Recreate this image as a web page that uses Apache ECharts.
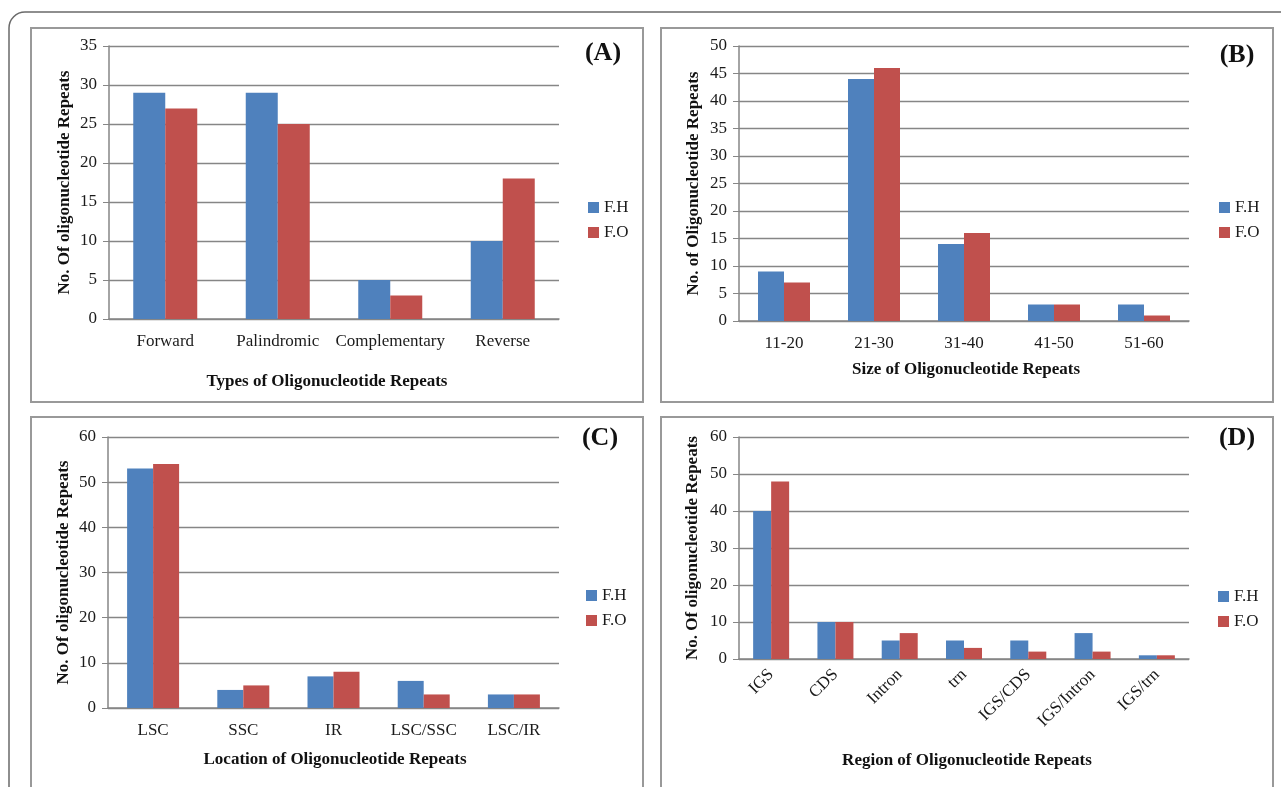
<!DOCTYPE html>
<html>
<head>
<meta charset="utf-8">
<script src="https://cdn.jsdelivr.net/npm/echarts@6/dist/echarts.min.js"></script>
<style>
html,body{margin:0;padding:0;background:#fff;}
#c{width:1281px;height:787px;}
</style>
</head>
<body>
<div id="c"></div>
<script>
// ---- data ----
const seriesNames = ['F.H', 'F.O'];

const typeCats = ['Forward', 'Palindromic', 'Complementary', 'Reverse'];
const typeFH = [29, 29, 5, 10];
const typeFO = [27, 25, 3, 18];

const sizeCats = ['11-20', '21-30', '31-40', '41-50', '51-60'];
const sizeFH = [9, 44, 14, 3, 3];
const sizeFO = [7, 46, 16, 3, 1];

const locCats = ['LSC', 'SSC', 'IR', 'LSC/SSC', 'LSC/IR'];
const locFH = [53, 4, 7, 6, 3];
const locFO = [54, 5, 8, 3, 3];

const regionCats = ['IGS', 'CDS', 'Intron', 'trn', 'IGS/CDS', 'IGS/Intron', 'IGS/trn'];
const regionFH = [40, 10, 5, 5, 5, 7, 1];
const regionFO = [48, 10, 7, 3, 2, 2, 1];

const panelLabels = ['(A)', '(B)', '(C)', '(D)'];
const xTitles = ['Types of Oligonucleotide Repeats', 'Size of Oligonucleotide Repeats',
                 'Location of Oligonucleotide Repeats', 'Region of Oligonucleotide Repeats'];
const yTitles = ['No. Of oligonucleotide Repeats', 'No. of Oligonucleotide Repeats',
                 'No. Of oligonucleotide Repeats', 'No. Of oligonucleotide Repeats'];
const yMax = [35, 50, 60, 60];
const yStep = [5, 5, 10, 10];

// ---- styling / layout ----
const FONT = '"Liberation Serif", "Times New Roman", serif';
const BLUE = '#4F81BD';
const RED = '#C0504D';
const LINE = '#868686';
const BOX = '#999999';

const grids = [
  {left: 109, top: 46, width: 450, height: 273},
  {left: 739, top: 46, width: 450, height: 275},
  {left: 108, top: 437, width: 451, height: 271},
  {left: 739, top: 437, width: 450, height: 222}
];
const cats = [typeCats, sizeCats, locCats, regionCats];
const fh = [typeFH, sizeFH, locFH, regionFH];
const fo = [typeFO, sizeFO, locFO, regionFO];
const barW = [32, 26, 26, 18];
const legendPos = [
  {left: 583, top: 194}, {left: 1214, top: 194},
  {left: 581, top: 582}, {left: 1213, top: 583}
];
const panelLabelPos = [[603, 53], [1237, 55], [600, 438], [1237, 438]];
const xTitlePos = [[327, 382], [966, 370], [335, 760], [967, 761]];
const yNameGap = [36, 37, 36, 38];

const xAxes = [], yAxes = [], series = [], legends = [], graphics = [];

// outer frame
graphics.push({type: 'rect', shape: {x: 9, y: 12, width: 1400, height: 900, r: 16},
  style: {fill: 'none', stroke: '#6a6a6a', lineWidth: 1.5}, z: 1});
// panel boxes
[[31, 28, 612, 374], [661, 28, 612, 374], [31, 417, 612, 420], [661, 417, 612, 420]].forEach(b => {
  graphics.push({type: 'rect', shape: {x: b[0], y: b[1], width: b[2], height: b[3]},
    style: {fill: 'none', stroke: BOX, lineWidth: 2}, z: 1});
});

for (let i = 0; i < 4; i++) {
  xAxes.push({
    type: 'category', gridIndex: i, data: cats[i],
    axisLine: {lineStyle: {color: LINE, width: 1.5}},
    axisTick: {show: false},
    axisLabel: {
      fontFamily: FONT, fontSize: 17, color: '#1a1a1a', interval: 0,
      margin: i === 3 ? 13 : 14, rotate: i === 3 ? 45 : 0
    }
  });
  yAxes.push({
    type: 'value', gridIndex: i, min: 0, max: yMax[i], interval: yStep[i],
    axisLine: {show: true, lineStyle: {color: LINE, width: 1.5}},
    axisTick: {show: true, length: 6, lineStyle: {color: LINE}},
    splitLine: {lineStyle: {color: LINE, width: 1.3}},
    axisLabel: {fontFamily: FONT, fontSize: 17, color: '#1a1a1a', margin: 12},
    name: yTitles[i], nameLocation: 'middle', nameRotate: 90, nameGap: yNameGap[i],
    nameTextStyle: {fontFamily: FONT, fontSize: 17, fontWeight: 'bold', color: '#111'}
  });
  series.push({
    name: seriesNames[0], type: 'bar', xAxisIndex: i, yAxisIndex: i, data: fh[i],
    barWidth: barW[i], barGap: '0%', itemStyle: {color: BLUE}
  });
  series.push({
    name: seriesNames[1], type: 'bar', xAxisIndex: i, yAxisIndex: i, data: fo[i],
    barWidth: barW[i], barGap: '0%', itemStyle: {color: RED}
  });
  legends.push({
    data: seriesNames, orient: 'vertical', left: legendPos[i].left, top: legendPos[i].top,
    itemWidth: 11, itemHeight: 11, itemGap: 8, itemTextGap: 3, icon: 'rect',
    selectedMode: false,
    textStyle: {fontFamily: FONT, fontSize: 17, color: '#1a1a1a'}
  });
  graphics.push({
    type: 'text', x: panelLabelPos[i][0], y: panelLabelPos[i][1], z: 10,
    style: {text: panelLabels[i], fontFamily: FONT, fontSize: 26, fontWeight: 'bold',
      fill: '#111', align: 'center', verticalAlign: 'middle'}
  });
  graphics.push({
    type: 'text', x: xTitlePos[i][0], y: xTitlePos[i][1], z: 10,
    style: {text: xTitles[i], fontFamily: FONT, fontSize: 17, fontWeight: 'bold',
      fill: '#111', align: 'center', verticalAlign: 'middle'}
  });
}

const chart = echarts.init(document.getElementById('c'), null, {renderer: 'canvas'});
chart.setOption({
  backgroundColor: '#fff',
  animation: false,
  grid: grids,
  xAxis: xAxes,
  yAxis: yAxes,
  series: series,
  legend: legends,
  graphic: graphics
});
</script>
</body>
</html>
